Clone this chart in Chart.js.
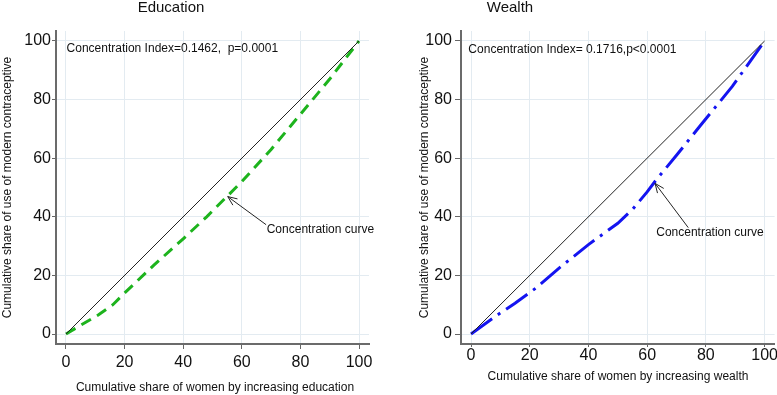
<!DOCTYPE html>
<html>
<head>
<meta charset="utf-8">
<script src="https://cdn.jsdelivr.net/npm/chart.js@4.4.1/dist/chart.umd.min.js"></script>
<style>
  html, body { margin: 0; padding: 0; background: #fff; }
  .panel { position: absolute; top: 0; height: 395px; }
  #leftPanel { left: 0; width: 388px; }
  #rightPanel { left: 388px; width: 389px; }
</style>
</head>
<body>
<div class="panel" id="leftPanel"><canvas id="eduChart"></canvas></div>
<div class="panel" id="rightPanel"><canvas id="wealthChart"></canvas></div>
<script>
// ticks shared by both panels
const axisTicks = [0, 20, 40, 60, 80, 100];

// line of equality
const equalX = [0, 100];
const equalY = [0, 100];

// education concentration curve
const eduX = [0, 5, 11, 16, 20, 30, 40, 48, 55, 60, 70, 80, 90, 100];
const eduY = [0, 3, 6.5, 10, 14, 23.5, 32.5, 40, 47, 52, 63, 75, 87, 100];

// wealth concentration curve
const wealthX = [0, 9, 15, 22, 30, 40, 50, 55, 60, 63, 70, 78, 89, 100];
const wealthY = [0, 6.5, 10.5, 15.6, 22.5, 30.5, 37.8, 42.5, 48.5, 52.5, 61, 71, 84.5, 100];

const FONT = '"Liberation Sans", Arial, Helvetica, sans-serif';

function toPoints(xs, ys) {
    return xs.map((x, i) => ({ x: x, y: ys[i] }));
}

// draws titles, axis titles, index text and the arrow note
function notesPlugin(cfg) {
    return {
        id: 'notes',
        afterDraw(chart) {
            const ctx = chart.ctx;
            const xs = chart.scales.x;
            const ys = chart.scales.y;
            ctx.save();
            ctx.fillStyle = '#111';
            ctx.textBaseline = 'middle';

            ctx.font = '15px ' + FONT;
            ctx.textAlign = 'center';
            ctx.fillText(cfg.title, cfg.titleX, 8);

            ctx.font = '12px ' + FONT;
            ctx.fillText(cfg.xTitle, cfg.xTitleX, cfg.xTitleY);

            ctx.save();
            ctx.translate(cfg.yTitleX, (chart.chartArea.top + chart.chartArea.bottom) / 2);
            ctx.rotate(-Math.PI / 2);
            ctx.fillText('Cumulative share of use of modern contraceptive', 0, 0);
            ctx.restore();

            ctx.textAlign = 'left';
            ctx.fillText(cfg.indexText, xs.getPixelForValue(cfg.indexAt[0]), ys.getPixelForValue(cfg.indexAt[1]));
            ctx.fillText('Concentration curve', xs.getPixelForValue(cfg.noteAt[0]), ys.getPixelForValue(cfg.noteAt[1]));

            // arrow
            const x0 = xs.getPixelForValue(cfg.arrowFrom[0]);
            const y0 = ys.getPixelForValue(cfg.arrowFrom[1]);
            const x1 = xs.getPixelForValue(cfg.arrowTo[0]);
            const y1 = ys.getPixelForValue(cfg.arrowTo[1]);
            const ang = Math.atan2(y1 - y0, x1 - x0);
            ctx.strokeStyle = '#222';
            ctx.lineWidth = 1;
            ctx.beginPath();
            ctx.moveTo(x0, y0);
            ctx.lineTo(x1, y1);
            ctx.moveTo(x1 - 10 * Math.cos(ang - 0.4), y1 - 10 * Math.sin(ang - 0.4));
            ctx.lineTo(x1, y1);
            ctx.lineTo(x1 - 10 * Math.cos(ang + 0.4), y1 - 10 * Math.sin(ang + 0.4));
            ctx.stroke();
            ctx.restore();
        }
    };
}

function makeChart(canvasId, curveX, curveY, color, dash, cfg) {
    const ctx = document.getElementById(canvasId).getContext('2d');
    return new Chart(ctx, {
        type: 'line',
        data: {
            datasets: [{
                data: toPoints(equalX, equalY),
                borderColor: '#222',
                borderWidth: 1,
                pointRadius: 0
            }, {
                data: toPoints(curveX, curveY),
                borderColor: color,
                borderWidth: 3,
                borderDash: dash,
                pointRadius: 0
            }]
        },
        options: {
            animation: false,
            responsive: true,
            maintainAspectRatio: false,
            layout: { padding: { top: 31, right: cfg.padRight, left: 0, bottom: 0 } },
            plugins: { legend: { display: false }, tooltip: { enabled: false } },
            scales: {
                x: {
                    type: 'linear',
                    min: -3.41,
                    max: 103.41,
                    afterBuildTicks: (axis) => { axis.ticks = axisTicks.map(v => ({ value: v })); },
                    afterFit: (axis) => { axis.height = 51; },
                    grid: { color: '#e3ebf1', tickColor: '#666', tickLength: cfg.xTickLen },
                    border: { color: '#6b6b6b', width: 2 },
                    ticks: { color: '#111', font: { family: FONT, size: 16 }, padding: cfg.xTickPad, maxRotation: 0 }
                },
                y: {
                    type: 'linear',
                    min: -3.41,
                    max: 103.41,
                    afterBuildTicks: (axis) => { axis.ticks = axisTicks.map(v => ({ value: v })); },
                    afterFit: (axis) => { axis.width = cfg.yWidth; },
                    grid: { color: '#e3ebf1', tickColor: '#666', tickLength: cfg.yTickLen },
                    border: { color: '#6b6b6b', width: 2 },
                    ticks: { color: '#111', font: { family: FONT, size: 16 }, padding: cfg.yTickPad }
                }
            }
        },
        plugins: [notesPlugin(cfg)]
    });
}

makeChart('eduChart', eduX, eduY, '#1db31d', [11, 7], {
    title: 'Education', titleX: 171,
    xTitle: 'Cumulative share of women by increasing education', xTitleX: 215, xTitleY: 388,
    yTitleX: 8,
    indexText: 'Concentration Index=0.1462,  p=0.0001', indexAt: [0.2, 97.4],
    noteAt: [68.5, 35.5], arrowFrom: [68.3, 37.3], arrowTo: [55.2, 46.9],
    padRight: 19, yWidth: 56, xTickLen: 5, xTickPad: 4, yTickLen: 4, yTickPad: 1
});

makeChart('wealthChart', wealthX, wealthY, '#1414f0', [26, 7, 3, 7], {
    title: 'Wealth', titleX: 122,
    xTitle: 'Cumulative share of women by increasing wealth', xTitleX: 230, xTitleY: 377,
    yTitleX: 37,
    indexText: 'Concentration Index= 0.1716,p<0.0001', indexAt: [-0.9, 96.9],
    noteAt: [63.1, 34.6], arrowFrom: [74, 36.3], arrowTo: [62.7, 51.4],
    padRight: 2, yWidth: 73, xTickLen: 3, xTickPad: -1, yTickLen: 6, yTickPad: 3
});
</script>
</body>
</html>
